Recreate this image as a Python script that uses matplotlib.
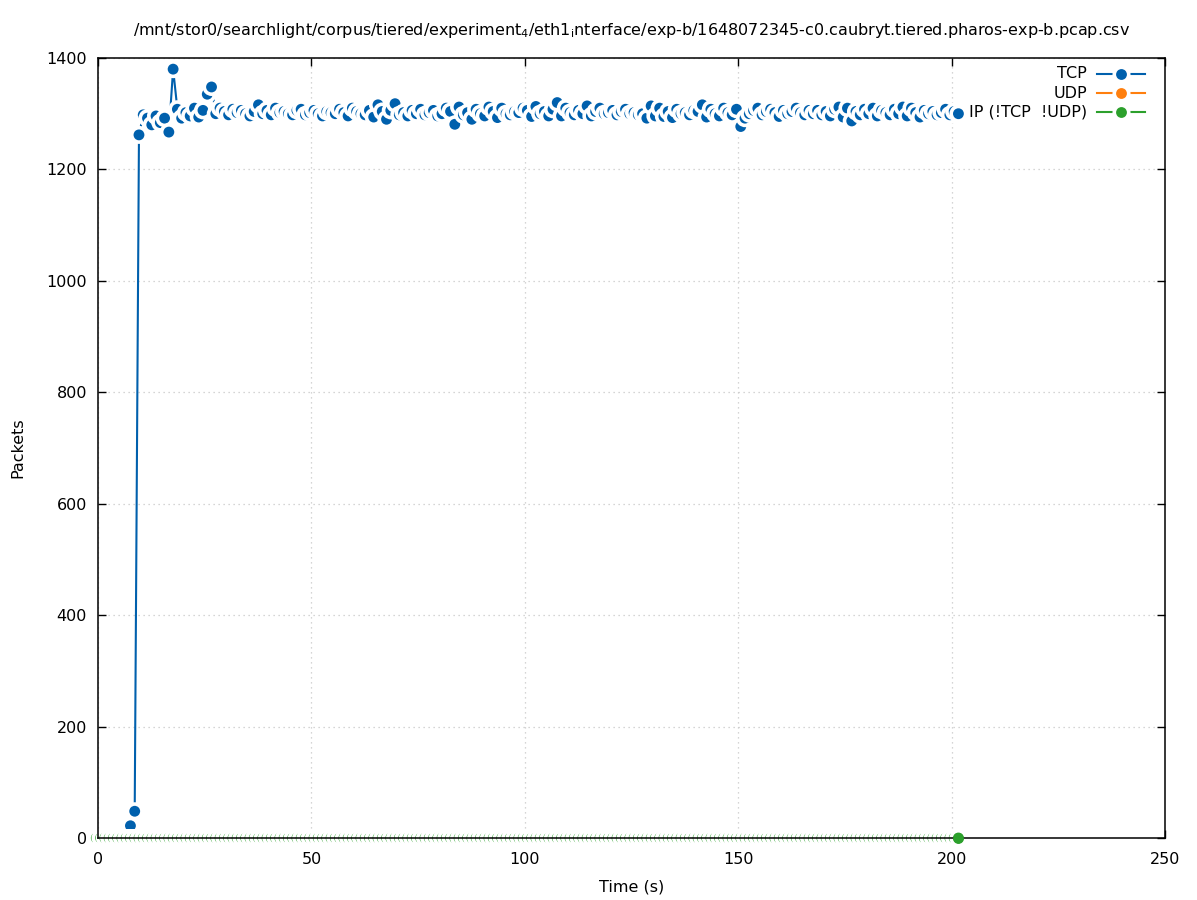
import numpy as np
import matplotlib
matplotlib.use("Agg")
import matplotlib.pyplot as plt

# ---------------- data ----------------
title_text = ("/mnt/stor0/searchlight/corpus/tiered/experiment$_4$/eth1$_\\mathregular{i}$"
              "nterface/exp-b/1648072345-c0.caubryt.tiered.pharos-exp-b.pcap.csv")

tcp_times = np.arange(7.6, 202.0, 1.0)          # one sample per second
tcp_values = [
    22, 48, 1262, 1298, 1292, 1280, 1296, 1284, 1292, 1267,
    1380, 1308, 1292, 1302, 1296, 1310, 1294, 1306, 1335, 1348,
    1300, 1310, 1304, 1298, 1308, 1302, 1306, 1300, 1296, 1304,
    1316, 1300, 1306, 1298, 1310, 1302, 1304, 1300, 1298, 1306,
    1308, 1298, 1302, 1306, 1300, 1296, 1304, 1302, 1300, 1308,
    1302, 1296, 1310, 1304, 1300, 1298, 1306, 1294, 1316, 1304,
    1290, 1306, 1318, 1298, 1302, 1296, 1306, 1300, 1308, 1298,
    1302, 1306, 1296, 1300, 1310, 1304, 1281, 1312, 1298, 1302,
    1290, 1308, 1300, 1296, 1312, 1304, 1293, 1310, 1300, 1298,
    1304, 1302, 1310, 1306, 1295, 1313, 1300, 1304, 1296, 1308,
    1320, 1296, 1310, 1302, 1298, 1306, 1300, 1314, 1296, 1304,
    1310, 1300, 1302, 1306, 1298, 1304, 1308, 1300, 1302, 1298,
    1300, 1292, 1314, 1296, 1310, 1295, 1304, 1293, 1308, 1300,
    1302, 1298, 1306, 1304, 1316, 1294, 1308, 1300, 1296, 1310,
    1302, 1298, 1308, 1277, 1292, 1300, 1306, 1310, 1298, 1304,
    1308, 1302, 1295, 1306, 1300, 1304, 1310, 1302, 1298, 1306,
    1300, 1306, 1298, 1304, 1296, 1308, 1312, 1294, 1310, 1287,
    1304, 1298, 1308, 1300, 1310, 1296, 1306, 1302, 1298, 1308,
    1300, 1312, 1296, 1310, 1302, 1294, 1306, 1300, 1304, 1298,
    1302, 1308, 1298, 1304, 1300,
]

other_times = np.arange(-0.4, 202.0, 1.0)
udp_values = np.zeros(len(other_times))
ip_values = np.zeros(len(other_times))

series_labels = ["TCP", "UDP", "IP (!TCP  !UDP)"]
series_colors = ["#0060ad", "#ff7f0e", "#2ca02c"]

x_ticks = [0, 50, 100, 150, 200, 250]
y_ticks = [0, 200, 400, 600, 800, 1000, 1200, 1400]

# ---------------- figure ----------------
W, H = 1197, 900
fig = plt.figure(figsize=(W / 100, H / 100), dpi=100)
L, R, T, B = 98, 1165, 58, 838
ax = fig.add_axes([L / W, 1 - B / H, (R - L) / W, (B - T) / H])

FS = 11.5
MS_DOT = 7.8      # marker diameter in points
MS_BLANK = 13.0   # blank (white) halo diameter


def draw_series(x, y, color, z):
    x = np.asarray(x, float)
    y = np.asarray(y, float)
    ax.plot(x, y, color=color, lw=1.5, zorder=z, clip_on=False,
            solid_joinstyle="miter")
    n = len(x)
    xs = np.repeat(x, 2)
    ys = np.repeat(y, 2)
    sizes = np.tile([MS_BLANK ** 2, MS_DOT ** 2], n)
    cols = ["white", color] * n
    ax.scatter(xs, ys, s=sizes, c=cols, linewidths=0, zorder=z + 0.1,
               clip_on=False)


draw_series(tcp_times, tcp_values, series_colors[0], 3)
draw_series(other_times, udp_values, series_colors[1], 4)
draw_series(other_times, ip_values, series_colors[2], 5)

ax.set_xlim(0, 250)
ax.set_ylim(0, 1400)
ax.set_xticks(x_ticks)
ax.set_yticks(y_ticks)
ax.tick_params(direction="in", top=True, right=True, length=6, width=1,
               labelsize=FS)
ax.tick_params(axis="x", pad=10)
ax.tick_params(axis="y", pad=8)
ax.grid(True, color="#c8c8c8", linestyle=(0, (1, 3)), linewidth=0.9)
ax.set_axisbelow(True)
for sp in ax.spines.values():
    sp.set_linewidth(1.1)
    sp.set_zorder(10)

# last IP point sits on top of the border
ax.scatter([other_times[-1]], [ip_values[-1]], s=MS_DOT ** 2,
           c=series_colors[2], linewidths=0, zorder=11, clip_on=False)

# ---------------- legend (gnuplot style) ----------------
def ax_xy(px, py):
    return (px - L) / (R - L), (B - py) / (B - T)

leg_rows = [74, 93, 112]
for lab, col, py in zip(series_labels, series_colors, leg_rows):
    tx, ty = ax_xy(1087, py)
    ax.text(tx, ty, lab, transform=ax.transAxes, ha="right", va="center",
            fontsize=FS, zorder=12)
    x0, _ = ax_xy(1097, py)
    x1, _ = ax_xy(1145, py)
    xm, _ = ax_xy(1121, py)
    ax.plot([x0, x1], [ty, ty], color=col, lw=1.5, transform=ax.transAxes,
            clip_on=False, zorder=12)
    ax.plot([xm], [ty], "o", ms=MS_BLANK, color="white", mec="none",
            transform=ax.transAxes, clip_on=False, zorder=12.1)
    ax.plot([xm], [ty], "o", ms=MS_DOT, color=col, mec="none",
            transform=ax.transAxes, clip_on=False, zorder=12.2)

# ---------------- texts ----------------
fig.text((L + R) / 2 / W, 1 - 30 / H, title_text, ha="center", va="center",
         fontsize=FS)
fig.text((L + R) / 2 / W, 1 - 887 / H, "Time (s)", ha="center", va="center",
         fontsize=FS)
fig.text(18 / W, 1 - 448 / H, "Packets", ha="center", va="center",
         rotation=90, fontsize=FS)

fig.savefig("out.png", dpi=100)
